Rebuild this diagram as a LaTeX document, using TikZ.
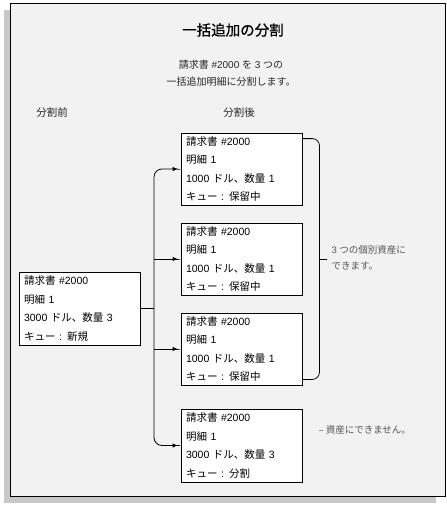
\documentclass[tikz,border=0pt]{standalone}
\usepackage{fontspec}
\setmainfont{Liberation Sans}
\newfontfamily\jp{Noto Sans CJK JP}
\newfontfamily\jpt{Noto Sans CJK JP}[FakeBold=0.8]
\usetikzlibrary{arrows.meta,calc}
\definecolor{panel}{HTML}{F2F2F2}
\definecolor{shadowc}{HTML}{C8C8C8}
\definecolor{labelc}{HTML}{555555}
\tikzset{
  recbox/.style={draw=black, line width=0.8pt, fill=white, minimum width=121pt, minimum height=72pt,
    text width=111pt, inner xsep=5pt, inner ysep=0pt, align=left, font=\fontsize{10.5}{18.5}\selectfont},
  conn/.style={line width=0.8pt, draw=black},
  arr/.style={conn, -{Latex[length=5pt,width=4.5pt]Rectangle[length=3pt,width=0pt 1]}},
  head/.style={font=\fontsize{10.5}{13}\selectfont, text=black!85},
  note/.style={font=\fontsize{9.5}{16}\selectfont, text=labelc, align=left, anchor=west},
}
\begin{document}
\begin{tikzpicture}[x=1pt,y=-1pt]
\useasboundingbox (0,0) rectangle (447,506);
\fill[shadowc] (4,10) rectangle (436,503);
\filldraw[fill=panel, draw=black, line width=0.8pt] (10.5,3.5) rectangle (445,496);
\node[font=\fontsize{14.5}{16}\selectfont] (title) at (233,30) {\jpt 一括追加の分割};
\node[font=\fontsize{10}{17}\selectfont, align=center, text=black!85] (sub) at (231,73)
  {{\jp 請求書} \#2000 {\jp を} 3 {\jp つの}\\{\jp 一括追加明細に分割します。}};
\node[head] (before) at (52,113) {\jp 分割前};
\node[head] (after) at (239,113) {\jp 分割後};

\node[recbox, minimum width=119pt, minimum height=73pt] (L) at (79.5,308.5)
  {{\jp 請求書} \#2000\\{\jp 明細} 1\\3000 {\jp ドル、数量} 3\\{\jp キュー} : {\jp 新規}};
\node[recbox] (B1) at (241.5,169)
  {{\jp 請求書} \#2000\\{\jp 明細} 1\\1000 {\jp ドル、数量} 1\\{\jp キュー} : {\jp 保留中}};
\node[recbox] (B2) at (241.5,259)
  {{\jp 請求書} \#2000\\{\jp 明細} 1\\1000 {\jp ドル、数量} 1\\{\jp キュー} : {\jp 保留中}};
\node[recbox] (B3) at (241.5,349)
  {{\jp 請求書} \#2000\\{\jp 明細} 1\\1000 {\jp ドル、数量} 1\\{\jp キュー} : {\jp 保留中}};
\node[recbox, minimum height=73pt] (B4) at (241.5,445.5)
  {{\jp 請求書} \#2000\\{\jp 明細} 1\\3000 {\jp ドル、数量} 3\\{\jp キュー} : {\jp 分割}};

\coordinate (j) at (154,308.5);
\draw[conn] (L.east) -- (j);
\draw[arr, rounded corners=8pt] (j) |- (B1.west);
\draw[arr, rounded corners=8pt] (j) |- (B4.west);
\draw[arr] (B2.west -| j) -- (B2.west);
\draw[arr] (B3.west -| j) -- (B3.west);

\coordinate (bt) at ($(B1.north east)+(0,6)$);
\coordinate (bb) at ($(B3.south east)+(0,-6)$);
\draw[conn, rounded corners=7pt] (bt) -- ($(bt)+(17,0)$) -- ($(bb)+(17,0)$) -- (bb);
\coordinate (tk) at ($(bt)!0.5!(bb)+(17,0)$);
\coordinate (tk2) at ($(tk)+(8,0)$);
\draw[conn] (tk) -- (tk2);
\node[note] (n1) at (328,258) {3 {\jp つの個別資産に}\\{\jp できます。}};
\node[note] (n2) at (315,430) {{\jp – 資産にできません。}};
\end{tikzpicture}
\end{document}
